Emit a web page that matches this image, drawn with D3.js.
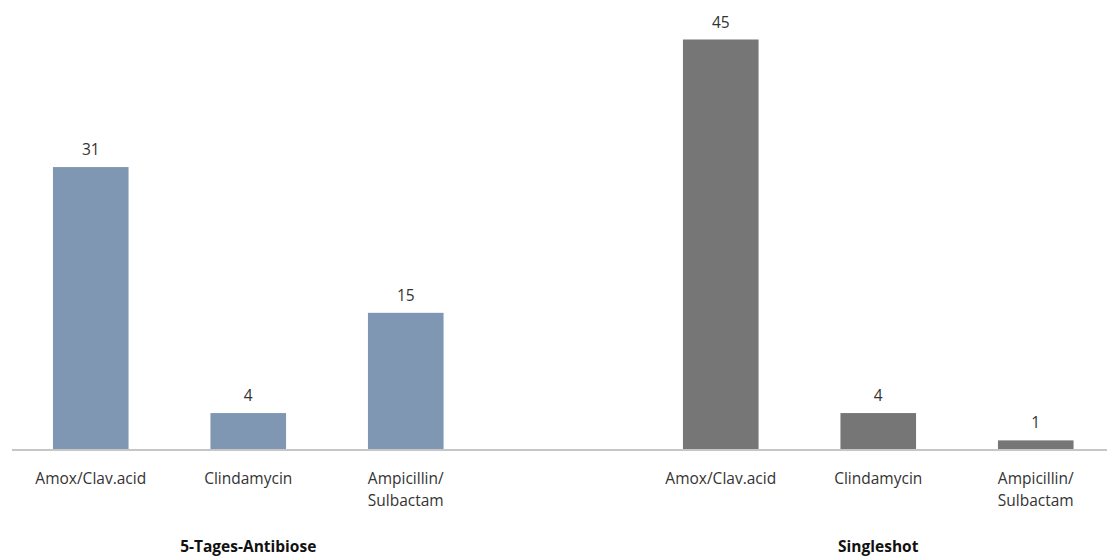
<!DOCTYPE html>
<html><head><meta charset="utf-8">
<script src="https://cdn.jsdelivr.net/npm/d3@7"></script>
<style>body{margin:0;background:#fff;overflow:hidden}</style>
</head><body>
<svg id="c" width="1107" height="556"></svg>
<script>
const slots = ["a1","a2","a3","gap","b1","b2","b3"];
const categories = ["Amox/Clav.acid","Clindamycin","Ampicillin/\nSulbactam","","Amox/Clav.acid","Clindamycin","Ampicillin/\nSulbactam"];
const values5Tage = [31, 4, 15];
const valuesSingle = [45, 4, 1];
const groups = ["5-Tages-Antibiose","Singleshot"];
const groupSlots = [["a1","a2","a3"],["b1","b2","b3"]];
const colors = ["#7f97b3","#767676"];

const svg = d3.select("#c");
const x = d3.scaleBand().domain(slots).range([12, 1114.5]).paddingInner(0.52).paddingOuter(0.26);
const y = d3.scaleLinear().domain([0, 45]).range([449.5, 39.5]);
const font = "Open Sans, sans-serif";

const data = [];
values5Tage.forEach((v,i)=>data.push({slot:groupSlots[0][i], v, g:0}));
valuesSingle.forEach((v,i)=>data.push({slot:groupSlots[1][i], v, g:1}));

svg.selectAll("rect.bar").data(data).join("rect").attr("class","bar")
  .attr("x", d=>x(d.slot)).attr("width", x.bandwidth())
  .attr("y", d=>y(d.v)).attr("height", d=>y(0)-y(d.v))
  .attr("fill", d=>colors[d.g]);

svg.selectAll("text.val").data(data).join("text").attr("class","val")
  .attr("x", d=>x(d.slot)+x.bandwidth()/2).attr("y", d=>y(d.v)-12)
  .attr("text-anchor","middle").attr("font-family",font).attr("font-size",15.5)
  .attr("fill","#333").text(d=>d.v);

svg.append("line").attr("x1",12).attr("x2",1114.5).attr("y1",y(0)+0.5).attr("y2",y(0)+0.5)
  .attr("stroke","#c6c6c6").attr("stroke-width",2);

slots.forEach((s,i)=>{
  const lines = categories[i].split("\n");
  const t = svg.append("text").attr("text-anchor","middle").attr("font-family",font)
    .attr("font-size",15.5).attr("fill","#333");
  lines.forEach((ln,j)=>{
    t.append("tspan").attr("x", x(s)+x.bandwidth()/2).attr("y", 483.5 + j*22.5).text(ln);
  });
});

groups.forEach((g,i)=>{
  const mid = groupSlots[i][1];
  svg.append("text").attr("x", x(mid)+x.bandwidth()/2).attr("y", 551.5)
    .attr("text-anchor","middle").attr("font-family",font).attr("font-size",15.5)
    .attr("font-weight","bold").attr("fill","#111").text(g);
});
</script>
</body></html>
